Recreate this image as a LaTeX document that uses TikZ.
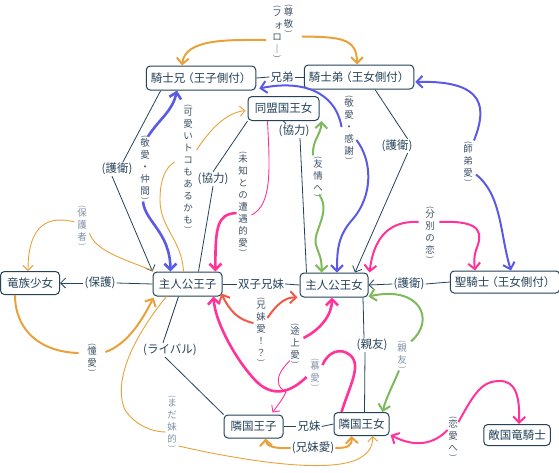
\documentclass[tikz,border=0pt]{standalone}
\usepackage{fontspec}
\usepackage{graphicx}
\setmainfont{Noto Sans CJK JP}
\usetikzlibrary{arrows.meta,calc}
\definecolor{navy}{HTML}{24425A}
\definecolor{ora}{HTML}{E9A23B}
\definecolor{blu}{HTML}{5A5AE6}
\definecolor{grn}{HTML}{7CBA5C}
\definecolor{pnk}{HTML}{FF3399}
\definecolor{redo}{HTML}{F05A48}
\definecolor{labd}{HTML}{3E5266}
\definecolor{labl}{HTML}{8092A5}
\newcommand{\vpo}{\scalebox{0.8}{\rotatebox[origin=c]{-90}{(}}}
\newcommand{\vpc}{\scalebox{0.8}{\rotatebox[origin=c]{-90}{)}}}
\tikzset{
  box/.style={draw=navy, line width=1pt, rounded corners=4pt, fill=white, text=navy,
    font=\fontsize{11.5}{13}\selectfont, inner xsep=4.5pt, inner ysep=2pt, minimum height=24pt},
  hl/.style={text=navy, font=\fontsize{11.5}{13}\selectfont, inner sep=1pt},
  vlab/.style={text=labd, font=\fontsize{9.5}{12}\selectfont, align=center, inner sep=0.5pt},
  vlabl/.style={vlab, text=labl},
  nav/.style={draw=navy, line width=0.8pt},
  tipn/.style={-{Straight Barb[length=5pt,width=10pt]}},
  tipt/.style={-{Straight Barb[length=6pt,width=12pt]}},
  thin/.style={line width=0.9pt},
  mid/.style={line width=2pt},
  thick/.style={line width=2.6pt},
}
\begin{document}
\begin{tikzpicture}[x=1pt,y=-1pt]
\useasboundingbox (0,0) rectangle (559,472);

% ---------- boxes ----------
\node[box, minimum width=108pt] (kb) at (201,78) {騎士兄\kern-3pt（王子側付）};
\node[box, minimum width=106pt] (ko) at (359,77) {騎士弟\kern-3pt（王女側付）};
\node[box, minimum width=71pt] (dm) at (283.5,108.5) {同盟国王女};
\node[box, minimum width=69pt] (op) at (187.5,284) {主人公王子};
\node[box, minimum width=68pt] (oj) at (334,285) {主人公王女};
\node[box, minimum width=59pt, minimum height=23pt] (ry) at (30,283) {竜族少女};
\node[box, minimum width=106pt, minimum height=22pt] (sk) at (505,282) {聖騎士\kern-3pt（王女側付）};
\node[box, minimum width=59pt, minimum height=23pt] (rp) at (253.5,426.5) {隣国王子};
\node[box, minimum width=53pt, minimum height=23pt] (rj) at (361.5,424) {隣国王女};
\node[box, minimum width=66pt, minimum height=21pt] (tk) at (517,435) {敵国竜騎士};

% ---------- horizontal labels ----------
\node[hl] (kyo) at (282,77) {兄弟};
\node[hl] (twin) at (261,284) {双子兄妹};
\node[hl] (kmai) at (309,426.5) {兄妹};
\node[hl] (hogo) at (100,283) {(保護)};
\node[hl] (goei1) at (117,169) {(護衛)};
\node[hl] (goei2) at (397,146) {(護衛)};
\node[hl] (goei3) at (409,284) {(護衛)};
\node[hl] (kyo1) at (213,179) {(協力)};
\node[hl] (kyo2) at (294,131) {(協力)};
\node[hl] (shinyu) at (372,345) {(親友)};
\node[hl] (rival) at (170,350) {(ライバル)};
\node[hl] (kbai) at (313,448) {(兄妹愛)};

% ---------- vertical labels ----------
\node[vlab] (fo) at (277,32) {\vpo\\[-4pt]フ\\\hspace*{3pt}ォ\\ロ\\｜\\[-6pt]\vpc};
\node[vlab] (son) at (288.5,19) {\vpo\\[-4pt]尊\\敬\\[-6pt]\vpc};
\node[vlab] (kn) at (145,168) {\vpo\\[-4pt]敬\\愛\\・\\仲\\間\\[-6pt]\vpc};
\node[vlab] (kawaii) at (188,167) {\vpo\\[-4pt]可\\愛\\い\\ト\\コ\\も\\あ\\る\\か\\も\\[-6pt]\vpc};
\node[vlab] (michi) at (243,202) {\vpo\\[-4pt]未\\知\\と\\の\\遭\\遇\\的\\愛\\[-6pt]\vpc};
\node[vlab] (yujo) at (318,177) {\vpo\\[-4pt]友\\情\\へ\\[-6pt]\vpc};
\node[vlab] (kansha) at (349,128) {\vpo\\[-4pt]敬\\愛\\・\\感\\謝\\[-6pt]\vpc};
\node[vlab] (shitei) at (468,162) {\vpo\\[-4pt]師\\弟\\愛\\[-6pt]\vpc};
\node[vlab] (fun) at (430,233) {\vpo\\[-4pt]分\\別\\の\\恋\\[-6pt]\vpc};
\node[vlabl] (hogosha) at (82,226) {\vpo\\[-4pt]保\\護\\者\\[-6pt]\vpc};
\node[vlab] (shoai) at (92,358) {\vpo\\[-4pt]憧\\愛\\[-6pt]\vpc};
\node[vlab] (kyodai) at (261,330) {\vpo\\[-4pt]兄\\妹\\愛\\！\\？\\[-6pt]\vpc};
\node[vlab] (tojo) at (295,344) {\vpo\\[-4pt]途\\上\\愛\\[-6pt]\vpc};
\node[vlabl] (bo) at (315,373) {\vpo\\[-4pt]慕\\愛\\[-6pt]\vpc};
\node[vlabl] (shinyu2) at (402,355) {\vpo\\[-4pt]親\\友\\[-6pt]\vpc};
\node[vlabl] (mada) at (172,422) {\vpo\\[-4pt]ま\\だ\\妹\\的\\[-6pt]\vpc};
\node[vlab] (renai) at (453,437) {\vpo\\[-4pt]恋\\愛\\へ\\[-6pt]\vpc};

% ---------- navy connectors ----------
\draw[nav] (kb.east) -- (kyo.west);
\draw[nav] (kyo.east) -- (ko.west);
\draw[nav] (op.east) -- (twin.west);
\draw[nav] (twin.east) -- (oj.west);
\draw[nav] (rp.east) -- (kmai.west);
\draw[nav] (kmai.east) -- (rj.west);
\draw[nav] (op.west) -- (hogo.east);
\draw[nav,tipn] (hogo.west) -- (ry.east);
\draw[nav] (sk.west) -- (goei3.east);
\draw[nav,tipn] (goei3.west) -- (oj.east);
\draw[nav] ($(kb.south west)+(15,0)$) -- ($(goei1.north)+(6,0)$);
\draw[nav,tipn] ($(goei1.south)+(-5,0)$) -- (op.north west);
\draw[nav] ($(ko.south)+(16,0)$) -- ($(goei2.north east)+(-6,0)$);
\draw[nav,tipn] ($(goei2.south east)+(-6,0)$) -- ($(oj.north)+(21,0)$);
\draw[nav] (dm.south west) -- (kyo1.north);
\draw[nav] (kyo1.south) -- ($(op.north)+(11,0)$);
\draw[nav] (dm.south) -- ($(kyo2.north)+(-8,0)$);
\draw[nav] ($(kyo2.south)+(6,0)$) -- ($(oj.north west)+(7,0)$);
\draw[nav] ($(oj.south)+(29,0)$) -- ($(shinyu.north)+(-8,0)$);
\draw[nav] ($(shinyu.south)+(-7,0)$) -- ($(rj.north)+(3,0)$);
\draw[nav] ($(op.south)+(-9,0)$) -- ($(rival.north)+(-7,0)$);
\draw[nav] ($(rival.south)+(-5,0)$) -- (rp.north west);

% ---------- orange ----------
\draw[ora,mid,tipt] ($(fo.west)+(-4,8)$) .. controls (230,40) and (185,38) .. ($(kb.north)+(-19,0)$);
\draw[ora,mid,tipt] ($(son.south east)+(8,2)$) .. controls (340,37) and (357,38) .. ($(ko.north)+(-2,0)$);
\draw[ora,mid,tipt] (kbai.west) .. controls (275,449) and (266,446) .. ($(rp.south east)+(-18,0)$);
\draw[ora,mid,tipt] (kbai.east) .. controls (348,448) and (352,446) .. ($(rj.south west)+(18,0)$);
\draw[ora,thin] ($(op.south)+(-21,0)$) .. controls (135,335) and (112,380) .. (125,410) .. controls (135,425) and (152,432) .. ($(mada.west)+(-1,10)$);
\draw[ora,thin,tipn] ($(mada.east)+(1,24)$) .. controls (240,460) and (330,475) .. (360,458) .. controls (370,452) and (373,445) .. ($(rj.south)+(11,0)$);
\draw[ora,mid] ($(ry.south west)+(15,0)$) .. controls (15,330) and (40,352) .. ($(shoai.west)+(-8,-5)$);
\draw[ora,mid,tipt] ($(shoai.east)+(8,-6)$) .. controls (125,345) and (140,325) .. ($(op.south west)+(1,1)$);
\draw[ora,thin] ($(op.north west)+(0,-1)$) .. controls (120,258) and (95,250) .. ($(hogosha.east)+(2,7)$);
\draw[ora,thin,tipn] ($(hogosha.west)+(-2,-4)$) .. controls (40,213) and (28,235) .. ($(ry.north west)+(28,0)$);
\draw[ora,thin] ($(op.north)+(-4,0)$) .. controls (182,240) and (160,228) .. (160,200) .. controls (160,180) and (165,168) .. ($(kawaii.west)+(-8,-5)$);
\draw[ora,thin,tipn] ($(kawaii.east)+(3,-17)$) .. controls (210,130) and (225,113) .. ($(dm.west)+(-2,2)$);

% ---------- blue ----------
\draw[blu,thick,tipt] ($(kn.north)+(3,2)$) .. controls (160,118) and (172,112) .. ($(kb.south)+(-24,0)$);
\draw[blu,thick,tipt] ($(kn.south)+(-2,0)$) .. controls (145,222) and (170,232) .. ($(op.north)+(-17,0)$);
\draw[blu,mid,tipt] ($(kansha.west)+(-2,-1)$) .. controls (335,90) and (300,80) .. ($(kb.south east)+(3,-2)$);
\draw[blu,mid,tipt] ($(kansha.east)+(2,12)$) .. controls (372,160) and (374,195) .. (352,220) .. controls (338,236) and (337,250) .. ($(oj.north)+(3,0)$);
\draw[blu,mid,tipt] ($(shitei.north)+(6,0)$) .. controls (486,110) and (488,80) .. ($(ko.east)+(1,5)$);
\draw[blu,mid,tipt] ($(shitei.south)+(8,-9)$) .. controls (502,195) and (500,235) .. ($(sk.north)+(6,0)$);

% ---------- green ----------
\draw[grn,mid,tipt] ($(yujo.north)+(-5,0)$) .. controls (312,140) and (321,135) .. ($(dm.south east)+(2,0)$);
\draw[grn,mid,tipt] ($(yujo.south)+(1,-4)$) .. controls (332,212) and (312,232) .. (316,245) .. controls (319,255) and (322,258) .. ($(oj.north west)+(22,0)$);
\draw[grn,mid,tipt] ($(shinyu2.north)+(9,2)$) .. controls (436,320) and (420,285) .. ($(oj.south east)+(0,-1)$);
\draw[grn,mid,tipt] ($(shinyu2.south)+(-3,0)$) .. controls (393,385) and (386,398) .. ($(rj.north east)+(-7,0)$);

% ---------- pink / red ----------
\draw[pnk,thin] ($(dm.south)+(-16,0)$) .. controls (270,170) and (272,205) .. ($(michi.east)+(3,13)$);
\draw[pnk,thick,tipt] ($(michi.west)+(-1,11)$) .. controls (218,214) and (215,225) .. ($(op.north east)+(-7,0)$);
\draw[pnk,mid,tipt] ($(fun.west)+(-6,-11)$) .. controls (398,221) and (375,228) .. ($(oj.north east)+(1,0)$);
\draw[pnk,mid,tipt] ($(fun.east)+(4,-11)$) .. controls (485,220) and (482,235) .. (476,250) .. controls (474,256) and (474,262) .. ($(sk.north)+(-30,0)$);
\draw[pnk,mid,tipt] ($(renai.east)+(0,-15)$) .. controls (475,392) and (482,381) .. (500,381) .. controls (515,381) and (520,395) .. ($(tk.north)+(2,0)$);
\draw[pnk,mid,tipt] ($(renai.west)+(0,-7)$) .. controls (430,448) and (410,445) .. ($(rj.east)+(1,11)$);
\draw[redo,mid,tipt] ($(kyodai.west)+(-2,-7)$) .. controls (238,320) and (229,310) .. ($(op.south east)+(-1,-3)$);
\draw[redo,mid,tipt] ($(kyodai.east)+(1,-12)$) .. controls (276,305) and (285,297) .. ($(oj.south west)+(-2,0)$);
\draw[pnk,thick,tipt] ($(tojo.east)+(3,-6)$) .. controls (320,330) and (332,315) .. ($(oj.south)+(-2,0)$);
\draw[pnk,thin,tipn] ($(tojo.south)+(-5,-5)$) .. controls (272,378) and (278,388) .. (286,392) .. controls (282,400) and (278,405) .. ($(rp.north east)+(-11,-2)$);
\draw[pnk,thick] ($(rj.north west)+(8,0)$) .. controls (350,385) and (362,365) .. (350,355) .. controls (340,347) and (328,352) .. ($(bo.east)+(2,-8)$);
\draw[pnk,thick,tipt] ($(bo.west)+(-3,4)$) .. controls (290,393) and (272,398) .. (255,380) .. controls (236,360) and (215,322) .. ($(op.south east)+(-9,0)$);

\end{tikzpicture}
\end{document}
